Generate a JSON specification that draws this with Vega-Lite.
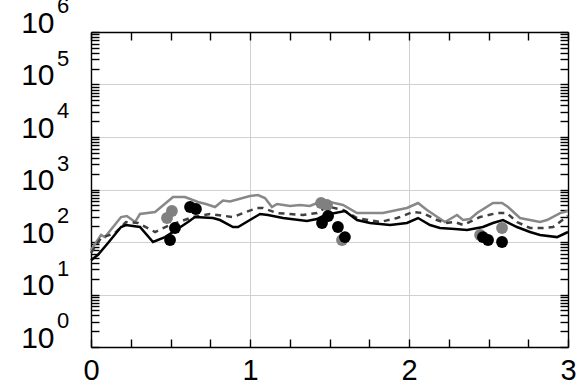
{
  "$schema": "https://vega.github.io/schema/vega-lite/v6.json",
  "autosize": {"type": "none"},
  "padding": {"left": 91, "top": 32, "right": 17, "bottom": 43},
  "width": 477,
  "height": 315,
  "background": "white",
  "config": {
    "view": {"stroke": null},
    "font": "Liberation Sans",
    "axis": {
      "domainColor": "black",
      "domainWidth": 1.4,
      "tickColor": "black",
      "tickWidth": 1.4,
      "gridColor": "#d0d0d0",
      "gridWidth": 1,
      "labelFont": "Liberation Sans",
      "labelColor": "black",
      "labelOverlap": false,
      "labelBound": false,
      "labelFlush": false,
      "title": null
    }
  },
  "datasets": {
    "lines": [
      {"s": "g", "x": 0, "y": 70}, {"s": "g", "x": 0.063, "y": 136}, {"s": "g", "x": 0.088, "y": 124}, {"s": "g", "x": 0.189, "y": 299}, {"s": "g", "x": 0.226, "y": 313}, {"s": "g", "x": 0.277, "y": 240}, {"s": "g", "x": 0.308, "y": 341}, {"s": "g", "x": 0.403, "y": 373}, {"s": "g", "x": 0.516, "y": 720}, {"s": "g", "x": 0.591, "y": 720}, {"s": "g", "x": 0.673, "y": 578}, {"s": "g", "x": 0.723, "y": 530}, {"s": "g", "x": 0.78, "y": 464}, {"s": "g", "x": 0.83, "y": 617}, {"s": "g", "x": 0.874, "y": 591}, {"s": "g", "x": 1.0, "y": 752}, {"s": "g", "x": 1.05, "y": 786}, {"s": "g", "x": 1.094, "y": 689}, {"s": "g", "x": 1.138, "y": 464}, {"s": "g", "x": 1.17, "y": 530}, {"s": "g", "x": 1.252, "y": 485}, {"s": "g", "x": 1.314, "y": 507}, {"s": "g", "x": 1.377, "y": 485}, {"s": "g", "x": 1.421, "y": 553}, {"s": "g", "x": 1.503, "y": 578}, {"s": "g", "x": 1.585, "y": 507}, {"s": "g", "x": 1.673, "y": 356}, {"s": "g", "x": 1.836, "y": 356}, {"s": "g", "x": 1.925, "y": 407}, {"s": "g", "x": 1.987, "y": 444}, {"s": "g", "x": 2.057, "y": 553}, {"s": "g", "x": 2.113, "y": 407}, {"s": "g", "x": 2.226, "y": 240}, {"s": "g", "x": 2.302, "y": 327}, {"s": "g", "x": 2.34, "y": 262}, {"s": "g", "x": 2.384, "y": 274}, {"s": "g", "x": 2.428, "y": 356}, {"s": "g", "x": 2.528, "y": 553}, {"s": "g", "x": 2.585, "y": 553}, {"s": "g", "x": 2.623, "y": 464}, {"s": "g", "x": 2.698, "y": 286}, {"s": "g", "x": 2.824, "y": 240}, {"s": "g", "x": 2.868, "y": 262}, {"s": "g", "x": 2.95, "y": 356}, {"s": "g", "x": 3.0, "y": 389},
      {"s": "d", "x": 0, "y": 62}, {"s": "d", "x": 0.063, "y": 119}, {"s": "d", "x": 0.151, "y": 148}, {"s": "d", "x": 0.22, "y": 240}, {"s": "d", "x": 0.296, "y": 230}, {"s": "d", "x": 0.403, "y": 155}, {"s": "d", "x": 0.497, "y": 211}, {"s": "d", "x": 0.642, "y": 299}, {"s": "d", "x": 0.748, "y": 341}, {"s": "d", "x": 0.893, "y": 299}, {"s": "d", "x": 0.956, "y": 356}, {"s": "d", "x": 1.044, "y": 444}, {"s": "d", "x": 1.082, "y": 444}, {"s": "d", "x": 1.17, "y": 356}, {"s": "d", "x": 1.252, "y": 341}, {"s": "d", "x": 1.333, "y": 327}, {"s": "d", "x": 1.421, "y": 356}, {"s": "d", "x": 1.472, "y": 444}, {"s": "d", "x": 1.503, "y": 464}, {"s": "d", "x": 1.585, "y": 407}, {"s": "d", "x": 1.673, "y": 286}, {"s": "d", "x": 1.818, "y": 240}, {"s": "d", "x": 1.925, "y": 286}, {"s": "d", "x": 2.025, "y": 373}, {"s": "d", "x": 2.088, "y": 356}, {"s": "d", "x": 2.176, "y": 262}, {"s": "d", "x": 2.226, "y": 230}, {"s": "d", "x": 2.289, "y": 240}, {"s": "d", "x": 2.34, "y": 211}, {"s": "d", "x": 2.447, "y": 299}, {"s": "d", "x": 2.553, "y": 356}, {"s": "d", "x": 2.616, "y": 356}, {"s": "d", "x": 2.679, "y": 240}, {"s": "d", "x": 2.761, "y": 185}, {"s": "d", "x": 2.843, "y": 185}, {"s": "d", "x": 2.906, "y": 193}, {"s": "d", "x": 3.0, "y": 313},
      {"s": "k", "x": 0, "y": 45}, {"s": "k", "x": 0.044, "y": 57}, {"s": "k", "x": 0.107, "y": 96}, {"s": "k", "x": 0.189, "y": 193}, {"s": "k", "x": 0.22, "y": 211}, {"s": "k", "x": 0.308, "y": 193}, {"s": "k", "x": 0.39, "y": 100}, {"s": "k", "x": 0.465, "y": 124}, {"s": "k", "x": 0.535, "y": 169}, {"s": "k", "x": 0.61, "y": 240}, {"s": "k", "x": 0.654, "y": 299}, {"s": "k", "x": 0.767, "y": 286}, {"s": "k", "x": 0.811, "y": 262}, {"s": "k", "x": 0.893, "y": 193}, {"s": "k", "x": 0.925, "y": 193}, {"s": "k", "x": 1.063, "y": 341}, {"s": "k", "x": 1.113, "y": 327}, {"s": "k", "x": 1.208, "y": 286}, {"s": "k", "x": 1.358, "y": 251}, {"s": "k", "x": 1.421, "y": 274}, {"s": "k", "x": 1.472, "y": 327}, {"s": "k", "x": 1.597, "y": 389}, {"s": "k", "x": 1.673, "y": 262}, {"s": "k", "x": 1.755, "y": 230}, {"s": "k", "x": 1.881, "y": 211}, {"s": "k", "x": 1.987, "y": 230}, {"s": "k", "x": 2.057, "y": 286}, {"s": "k", "x": 2.132, "y": 211}, {"s": "k", "x": 2.195, "y": 185}, {"s": "k", "x": 2.289, "y": 177}, {"s": "k", "x": 2.365, "y": 169}, {"s": "k", "x": 2.465, "y": 193}, {"s": "k", "x": 2.528, "y": 230}, {"s": "k", "x": 2.591, "y": 262}, {"s": "k", "x": 2.679, "y": 193}, {"s": "k", "x": 2.761, "y": 155}, {"s": "k", "x": 2.824, "y": 136}, {"s": "k", "x": 2.931, "y": 124}, {"s": "k", "x": 3.0, "y": 155}
    ],
    "points": [
      {"c": "gray", "x": 0.478, "y": 286}, {"c": "gray", "x": 0.509, "y": 389}, {"c": "gray", "x": 1.447, "y": 553}, {"c": "gray", "x": 1.484, "y": 507}, {"c": "gray", "x": 1.579, "y": 109}, {"c": "gray", "x": 2.447, "y": 136}, {"c": "gray", "x": 2.585, "y": 185},
      {"c": "black", "x": 0.497, "y": 109}, {"c": "black", "x": 0.528, "y": 185}, {"c": "black", "x": 0.623, "y": 464}, {"c": "black", "x": 0.66, "y": 425}, {"c": "black", "x": 1.453, "y": 230}, {"c": "black", "x": 1.491, "y": 313}, {"c": "black", "x": 1.553, "y": 193}, {"c": "black", "x": 1.597, "y": 124}, {"c": "black", "x": 2.465, "y": 124}, {"c": "black", "x": 2.497, "y": 109}, {"c": "black", "x": 2.585, "y": 100}
    ],
    "exps": [
      {"e": "0", "v": 1}, {"e": "1", "v": 10}, {"e": "2", "v": 100}, {"e": "3", "v": 1000}, {"e": "4", "v": 10000}, {"e": "5", "v": 100000}, {"e": "6", "v": 1000000}
    ]
  },
  "layer": [
    {
      "encoding": {
        "x": {
          "field": "x", "type": "quantitative",
          "scale": {"domain": [0, 3], "nice": false, "zero": false},
          "axis": {
            "orient": "bottom",
            "values": [0, 0.25, 0.5, 0.75, 1, 1.25, 1.5, 1.75, 2, 2.25, 2.5, 2.75, 3],
            "labelExpr": "datum.value % 1 == 0 ? format(datum.value, 'd') : ''",
            "labelFontSize": 29,
            "labelBaseline": "top",
            "labelPadding": 17,
            "tickSize": -8,
            "grid": true,
            "gridOpacity": {"condition": {"test": "datum.value % 1 == 0", "value": 1}, "value": 0}
          }
        },
        "y": {
          "field": "y", "type": "quantitative",
          "scale": {"type": "log", "domain": [1, 1000000], "nice": false},
          "axis": {
            "orient": "left",
            "values": [1,2,3,4,5,6,7,8,9,10,20,30,40,50,60,70,80,90,100,200,300,400,500,600,700,800,900,1000,2000,3000,4000,5000,6000,7000,8000,9000,10000,20000,30000,40000,50000,60000,70000,80000,90000,100000,200000,300000,400000,500000,600000,700000,800000,900000,1000000],
            "labelExpr": "abs(log(datum.value)/LN10 - round(log(datum.value)/LN10)) < 0.001 ? '10' : ''",
            "labelFontSize": 30,
            "labelAlign": "right",
            "labelBaseline": "alphabetic",
            "labelPadding": 45,
            "tickSize": -8,
            "grid": true,
            "gridOpacity": {"condition": {"test": "abs(log(datum.value)/LN10 - round(log(datum.value)/LN10)) < 0.001", "value": 1}, "value": 0}
          }
        }
      },
      "layer": [
        {
          "data": {"name": "lines"},
          "transform": [{"filter": "datum.s == 'g'"}],
          "mark": {"type": "line", "color": "#888888", "strokeWidth": 2.5},
          "encoding": {"order": {"field": "x", "type": "quantitative"}}
        },
        {
          "data": {"name": "lines"},
          "transform": [{"filter": "datum.s == 'd'"}],
          "mark": {"type": "line", "color": "#404040", "strokeWidth": 2.5, "strokeDash": [6, 5]},
          "encoding": {"order": {"field": "x", "type": "quantitative"}}
        },
        {
          "data": {"name": "lines"},
          "transform": [{"filter": "datum.s == 'k'"}],
          "mark": {"type": "line", "color": "#000000", "strokeWidth": 2.5},
          "encoding": {"order": {"field": "x", "type": "quantitative"}}
        },
        {
          "data": {"name": "points"},
          "mark": {"type": "circle", "size": 140, "opacity": 1},
          "encoding": {
            "color": {"field": "c", "type": "nominal", "scale": {"domain": ["gray", "black"], "range": ["#808080", "#000000"]}, "legend": null}
          }
        }
      ]
    },
    {
      "data": {"name": "exps"},
      "mark": {"type": "text", "align": "left", "baseline": "alphabetic", "dx": -34, "dy": -19, "fontSize": 22, "font": "Liberation Sans", "color": "black"},
      "encoding": {
        "x": {
          "datum": 0, "type": "quantitative",
          "scale": {"domain": [0, 3], "nice": false, "zero": false},
          "axis": {
            "orient": "top",
            "values": [0, 0.25, 0.5, 0.75, 1, 1.25, 1.5, 1.75, 2, 2.25, 2.5, 2.75, 3],
            "labels": false,
            "grid": false,
            "tickSize": -8
          }
        },
        "y": {
          "field": "v", "type": "quantitative",
          "scale": {"type": "log", "domain": [1, 1000000], "nice": false},
          "axis": {
            "orient": "right",
            "values": [1,2,3,4,5,6,7,8,9,10,20,30,40,50,60,70,80,90,100,200,300,400,500,600,700,800,900,1000,2000,3000,4000,5000,6000,7000,8000,9000,10000,20000,30000,40000,50000,60000,70000,80000,90000,100000,200000,300000,400000,500000,600000,700000,800000,900000,1000000],
            "labels": false,
            "grid": false,
            "tickSize": -8
          }
        },
        "text": {"field": "e", "type": "nominal"}
      }
    }
  ],
  "resolve": {"axis": {"x": "independent", "y": "independent"}}
}
